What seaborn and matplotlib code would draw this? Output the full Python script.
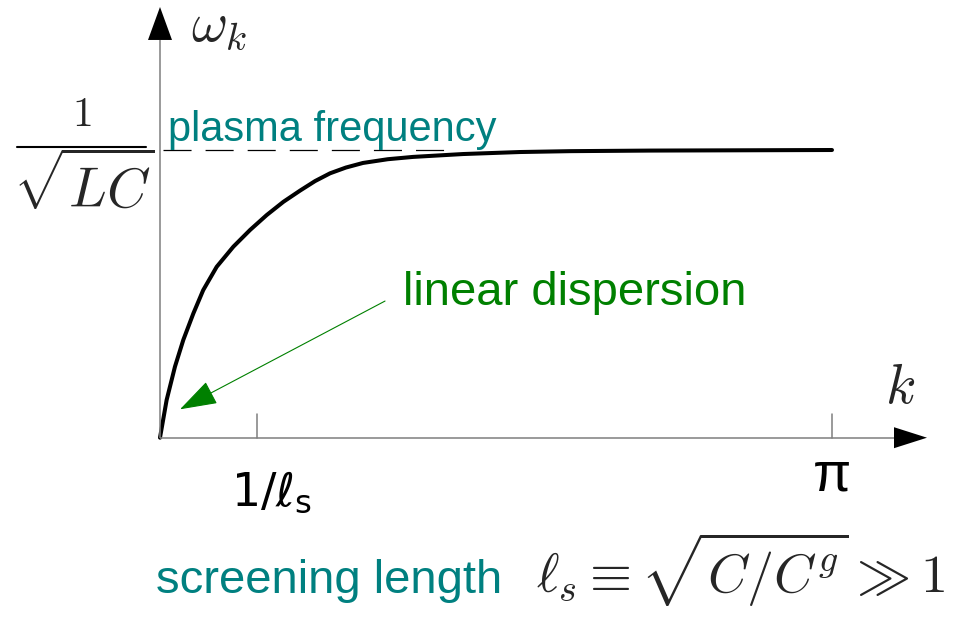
import numpy as np
import pandas as pd
import matplotlib
matplotlib.use("Agg")
import matplotlib.pyplot as plt
from matplotlib.patches import Polygon
import seaborn as sns

# ---- data (k in units of the lattice, omega in units of 1/sqrt(LC)) ----
k_vals = [0.0, 0.031, 0.070, 0.109, 0.156, 0.202, 0.265, 0.343, 0.421, 0.499,
          0.577, 0.655, 0.725, 0.795, 0.869, 0.949, 1.065, 1.183, 1.417, 1.683,
          1.917, 2.291, 2.712, 3.1416]
omega_vals = [0.0, 0.131, 0.247, 0.340, 0.432, 0.513, 0.594, 0.664, 0.722, 0.774,
              0.820, 0.859, 0.892, 0.919, 0.939, 0.955, 0.968, 0.976, 0.986, 0.993,
              0.996, 0.998, 0.999, 1.0]
tick_positions = [0.4535, 3.1416]
tick_labels = [r"$\mathsf{1/}\ell_{\mathsf{s}}$", "π"]
plasma_level = 1.0

sns.set_theme(style="white")
plt.rcParams["font.family"] = ["Liberation Sans", "DejaVu Sans"]
plt.rcParams["mathtext.fontset"] = "cm"
plt.rcParams["lines.scale_dashes"] = False

fig = plt.figure(figsize=(9.62, 6.17), dpi=100)
ax = fig.add_axes([0, 0, 1, 1])
ax.set_xlim(-0.748, 3.7494)
ax.set_ylim(-0.6232, 1.5214)
ax.axis("off")

df = pd.DataFrame({"k": k_vals, "omega": omega_vals})
sns.lineplot(data=df, x="k", y="omega", color="black", linewidth=2.9, ax=ax,
             estimator=None, sort=True)

gray = "#7f7f7f"
# axes lines
ax.plot([0, 3.4315], [0, 0], color=gray, lw=1.1, solid_capstyle="butt")
ax.plot([0, 0], [0, 1.3825], color=gray, lw=1.1, solid_capstyle="butt")
# arrow heads
ax.add_patch(Polygon([[3.4315, 0.0365], [3.5857, 0.0], [3.4315, -0.0365]],
                     closed=True, color="black", lw=0))
ax.add_patch(Polygon([[-0.0561, 1.3825], [0.0, 1.4971], [0.0561, 1.3825]],
                     closed=True, color="black", lw=0))

# ticks
for t in tick_positions:
    ax.plot([t, t], [0, 0.082], color=gray, lw=1.1)

# tick labels
ax.text(0.332, -0.234, tick_labels[0], fontsize=33, ha="left", va="baseline",
        math_fontfamily="dejavusans", color="black")
ax.text(tick_positions[1], -0.182, tick_labels[1], fontsize=40, ha="center",
        va="baseline", color="black")

# plasma frequency dashed line
ax.plot([0.014, 1.332], [plasma_level, plasma_level], color="black", lw=0.9,
        dashes=(20.2, 10.1))

teal = "#008080"
green = "#008000"
ax.text(0.0374, 1.031, "plasma frequency", color=teal, fontsize=30,
        ha="left", va="baseline")
ax.text(1.136, 0.461, "linear dispersion", color=green, fontsize=34,
        ha="left", va="baseline")
ax.annotate("", xy=(0.0935, 0.0987), xytext=(1.052, 0.475),
            arrowprops=dict(arrowstyle="-|>,head_length=23.8,head_width=7.9",
                            color=green, lw=0.8, shrinkA=0, shrinkB=0,
                            mutation_scale=1))

# axis labels
ax.text(0.145, 1.380, r"$\omega_k$", fontsize=40, ha="left", va="baseline")
ax.text(3.389, 0.121, r"$k$", fontsize=40, ha="left", va="baseline")

# y value label 1/sqrt(LC)
ax.text(-0.365, 1.083, r"$1$", fontsize=30, ha="center", va="baseline")
ax.plot([-0.6685, -0.0655], [1.0115, 1.0115], color="black", lw=1.5)
ax.text(-0.355, 0.798, r"$\sqrt{LC}$", fontsize=40, ha="center", va="baseline")

# bottom note
ax.text(-0.0187, -0.540, "screening length", color=teal, fontsize=34,
        ha="left", va="baseline")
ax.text(1.758, -0.540, r"$\ell_s \equiv \sqrt{C/C^g} \gg 1$", fontsize=39,
        ha="left", va="baseline")

fig.savefig("out.png", dpi=100)
